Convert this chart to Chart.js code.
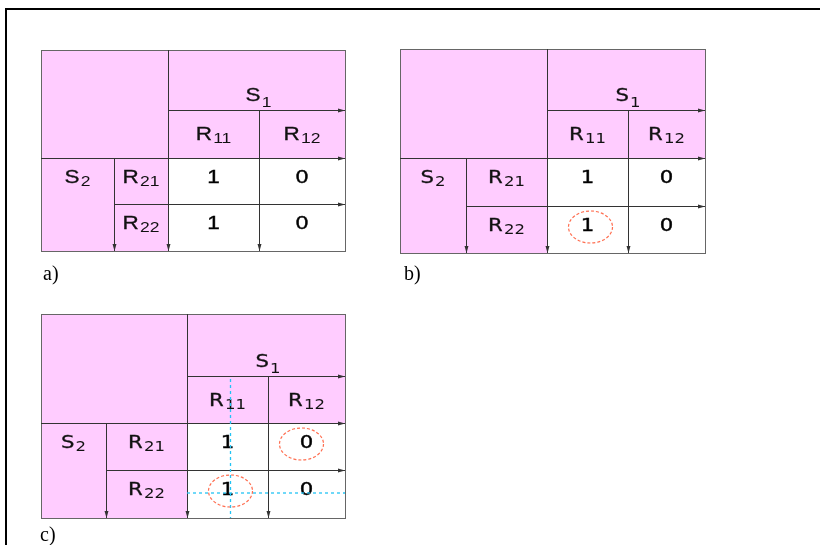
<!DOCTYPE html>
<html><head><meta charset="utf-8">
<script src="https://cdn.jsdelivr.net/npm/chart.js@4/dist/chart.umd.min.js"></script>
<style>html,body{margin:0;padding:0;background:#fff;}</style>
</head><body>
<canvas id="c" width="820" height="545"></canvas>
<script>
// ---- data ----
const panelNames = ['a)', 'b)', 'c)'];
const colGroup = ['S', '1'];
const rowGroup = ['S', '2'];
const colHeaders = [['R', '11'], ['R', '12']];
const rowHeaders = [['R', '21'], ['R', '22']];
const cellValues = [[1, 0], [1, 0]];
const circledCells = [[], [[1, 0]], [[0, 1], [1, 0]]];
const crossCells = [null, null, [1, 0]];

// ---- layout (positions/styles) ----
const panels = [
  { xs: [41, 114, 168, 259, 345], ys: [50, 110, 158, 204, 251], label: [43, 280],
    font: '"Liberation Sans", Arial, sans-serif', size: 18, sub: 14, vsize: 18, stretch: 1.25 },
  { xs: [400, 466, 547, 628, 705], ys: [49, 110, 158, 206, 253], label: [404, 280],
    font: '"DejaVu Sans", Verdana, sans-serif', size: 18, sub: 14, vsize: 18, stretch: 1.18 },
  { xs: [41, 106, 187, 268, 345], ys: [314, 376, 423, 470, 518], label: [40, 541],
    font: '"DejaVu Sans", Verdana, sans-serif', size: 18, sub: 14, vsize: 18, stretch: 1.18 }
];
const PINK = '#ffccff', LINE = '#333333', BORDER = '#666666';

const diagramPlugin = {
  id: 'diagram',
  afterDraw(chart) {
    const ctx = chart.ctx;
    const sx = chart.scales.x, sy = chart.scales.y;
    const X = v => sx.getPixelForValue(v), Y = v => sy.getPixelForValue(v);

    // outer frame (top and left)
    ctx.save();
    ctx.fillStyle = '#000';
    ctx.fillRect(X(5), Y(8), X(820) - X(5), 2);
    ctx.fillRect(X(5), Y(8), 2, Y(545) - Y(8));
    ctx.restore();

    function arrowLine(x1, y1, x2, y2) {
      ctx.save();
      ctx.strokeStyle = LINE; ctx.fillStyle = LINE; ctx.lineWidth = 1;
      ctx.beginPath(); ctx.moveTo(X(x1), Y(y1)); ctx.lineTo(X(x2), Y(y2)); ctx.stroke();
      const ang = Math.atan2(Y(y2) - Y(y1), X(x2) - X(x1));
      const L = 7, W = 2;
      ctx.translate(X(x2), Y(y2)); ctx.rotate(ang);
      ctx.beginPath(); ctx.moveTo(0, 0); ctx.lineTo(-L, -W); ctx.lineTo(-L, W); ctx.closePath(); ctx.fill();
      ctx.restore();
    }

    function subText(pair, cx, cy, p, subDy) {
      ctx.save();
      const mainF = p.size + 'px ' + p.font, subF = p.sub + 'px ' + p.font;
      ctx.font = mainF; const w1 = ctx.measureText(pair[0]).width;
      ctx.font = subF; const w2 = ctx.measureText(pair[1]).width;
      const tw = (w1 + w2 + 1) * p.stretch;
      ctx.translate(X(cx) - tw / 2, Y(cy) + p.size * 0.36);
      ctx.scale(p.stretch, 1);
      ctx.fillStyle = '#111'; ctx.strokeStyle = '#111'; ctx.lineWidth = 0.3;
      ctx.textBaseline = 'alphabetic'; ctx.textAlign = 'left';
      ctx.font = mainF; ctx.fillText(pair[0], 0, 0); ctx.strokeText(pair[0], 0, 0);
      ctx.font = subF; ctx.fillText(pair[1], w1 + 1, subDy);
      ctx.restore();
    }

    function plainText(t, cx, cy, p) {
      ctx.save();
      ctx.translate(X(cx), Y(cy));
      ctx.scale(p.stretch, 1);
      ctx.fillStyle = '#000'; ctx.strokeStyle = '#000'; ctx.lineWidth = 0.4;
      ctx.font = p.vsize + 'px ' + p.font;
      ctx.textAlign = 'center'; ctx.textBaseline = 'middle';
      ctx.fillText(t, 0, 1); ctx.strokeText(t, 0, 1);
      ctx.restore();
    }

    panels.forEach((p, pi) => {
      const xs = p.xs, ys = p.ys;
      // fills
      ctx.fillStyle = PINK;
      ctx.fillRect(X(xs[0]), Y(ys[0]), X(xs[4]) - X(xs[0]), Y(ys[4]) - Y(ys[0]));
      ctx.fillStyle = '#fff';
      ctx.fillRect(X(xs[2]), Y(ys[2]), X(xs[4]) - X(xs[2]), Y(ys[4]) - Y(ys[2]));
      // border
      ctx.strokeStyle = BORDER; ctx.lineWidth = 1;
      ctx.strokeRect(X(xs[0]) + 0.5, Y(ys[0]) + 0.5, X(xs[4]) - X(xs[0]), Y(ys[4]) - Y(ys[0]));

      // arrow lines
      arrowLine(xs[2] + 0.5, ys[0], xs[2] + 0.5, ys[4]);
      arrowLine(xs[0], ys[2] + 0.5, xs[4], ys[2] + 0.5);
      arrowLine(xs[2], ys[1] + 0.5, xs[4], ys[1] + 0.5);
      arrowLine(xs[3] + 0.5, ys[1], xs[3] + 0.5, ys[4]);
      arrowLine(xs[1] + 0.5, ys[2], xs[1] + 0.5, ys[4]);
      arrowLine(xs[1], ys[3] + 0.5, xs[4], ys[3] + 0.5);

      // group labels
      subText(colGroup, (xs[2] + xs[4]) / 2 + 2, ys[1] - 15, p, 6);
      subText(rowGroup, (xs[0] + xs[1]) / 2, ys[2] + 19, p, 3);
      // headers
      colHeaders.forEach((h, c) => subText(h, (xs[2 + c] + xs[3 + c]) / 2, (ys[1] + ys[2]) / 2, p, 3));
      rowHeaders.forEach((h, r) => subText(h, (xs[1] + xs[2]) / 2, ys[2 + r] + 19, p, 3));
      // values
      cellValues.forEach((row, r) => row.forEach((v, c) => {
        plainText(String(v), (xs[2 + c] + xs[3 + c]) / 2, ys[2 + r] + 19, p);
      }));

      // crosshair
      const cc = crossCells[pi];
      if (cc) {
        const cx = (xs[2 + cc[1]] + xs[3 + cc[1]]) / 2 + 3;
        const cy = (ys[2 + cc[0]] + ys[3 + cc[0]]) / 2 - 1;
        ctx.save();
        ctx.strokeStyle = '#22c4f4'; ctx.lineWidth = 1.3; ctx.setLineDash([3, 3]);
        ctx.beginPath(); ctx.moveTo(X(cx), Y(ys[1] + 3)); ctx.lineTo(X(cx), Y(ys[4])); ctx.stroke();
        ctx.beginPath(); ctx.moveTo(X(xs[2]), Y(cy)); ctx.lineTo(X(xs[4]), Y(cy)); ctx.stroke();
        ctx.restore();
      }
      // circled values
      circledCells[pi].forEach(([r, c]) => {
        const cx = (xs[2 + c] + xs[3 + c]) / 2 + (c === 0 ? 3 : -5);
        const cy = ys[2 + r] + 21;
        ctx.save();
        ctx.strokeStyle = '#ff6e50'; ctx.lineWidth = 1.2; ctx.setLineDash([3, 2]);
        ctx.beginPath(); ctx.ellipse(X(cx), Y(cy), 22, 16, 0, 0, Math.PI * 2); ctx.stroke();
        ctx.restore();
      });
      // panel label
      ctx.save();
      ctx.fillStyle = '#000'; ctx.font = '20px "Liberation Serif", "Times New Roman", serif';
      ctx.textBaseline = 'alphabetic'; ctx.textAlign = 'left';
      ctx.fillText(panelNames[pi], X(p.label[0]), Y(p.label[1]));
      ctx.restore();
    });
  }
};

new Chart(document.getElementById('c'), {
  type: 'scatter',
  data: { datasets: [{ data: [], pointRadius: 0 }] },
  options: {
    responsive: false, animation: false, devicePixelRatio: 1,
    layout: { padding: 0 },
    plugins: { legend: { display: false }, tooltip: { enabled: false } },
    scales: {
      x: { type: 'linear', min: 0, max: 820, display: false },
      y: { type: 'linear', min: 0, max: 545, reverse: true, display: false }
    }
  },
  plugins: [diagramPlugin]
});
</script>
</body></html>
